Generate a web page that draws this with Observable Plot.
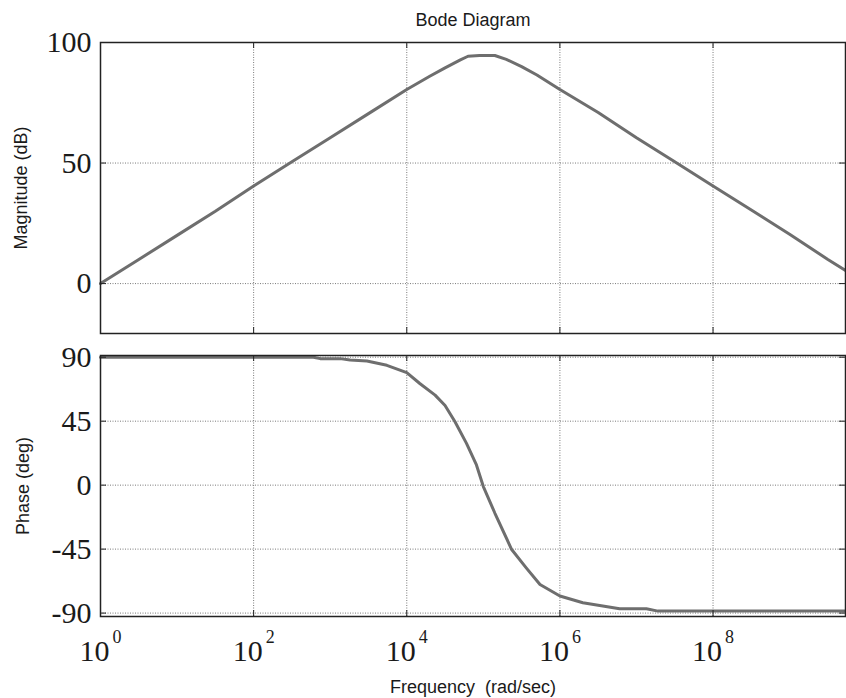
<!DOCTYPE html>
<html>
<head>
<meta charset="utf-8">
<script src="https://cdn.jsdelivr.net/npm/d3@7"></script>
<script src="https://cdn.jsdelivr.net/npm/@observablehq/plot@0.6"></script>
<style>
  html, body { margin: 0; padding: 0; background: #fff; }
  #chart { position: relative; width: 846px; height: 698px; background: #fff; }
  #chart svg { position: absolute; left: 0; overflow: visible; background: transparent; }
</style>
</head>
<body>
<div id="chart"></div>
<script>
// ---- data ----
const xTickExp = [0, 2, 4, 6, 8];
const magTicks = [0, 50, 100];
const phaseTicks = [-90, -45, 0, 45, 90];

// magnitude: frequency exponent (log10 rad/sec) and dB
const magExp = [0, 0.5, 1.0, 1.5, 2.0, 2.5, 3.0, 3.5, 4.0, 4.3, 4.5, 4.7, 4.8, 4.95, 5.15, 5.3, 5.5, 5.7, 6.0, 6.5, 7.0, 7.5, 8.0, 8.5, 9.0, 9.5, 9.73];
const magDb  = [0, 10, 20, 30, 40.5, 50.5, 60.5, 70.5, 80.5, 86, 89.5, 92.8, 94.3, 94.6, 94.6, 93, 90, 86.5, 80.5, 71, 60.5, 50.5, 40.5, 30.5, 20.5, 10, 5.4];

// phase: frequency exponent and degrees
const phaseExp = [0, 1, 2, 2.78, 2.87, 3.13, 3.26, 3.48, 3.74, 4.0, 4.17, 4.37, 4.5, 4.63, 4.78, 4.91, 5.0, 5.15, 5.37, 5.56, 5.74, 6.0, 6.3, 6.78, 7.13, 7.28, 9.73];
const phaseDeg = [90, 90, 90, 90, 89, 89, 88, 87.3, 84.3, 79.2, 71.5, 63.3, 56, 44.6, 29.4, 14.2, -1, -19.6, -45.3, -58.2, -69.9, -78, -82.7, -86.9, -86.9, -88.6, -88.6];

const xTicks = xTickExp.map(e => 10 ** e);
const magData = magExp.map((e, i) => ({f: 10 ** e, v: magDb[i]}));
const phaseData = phaseExp.map((e, i) => ({f: 10 ** e, v: phaseDeg[i]}));

// ---- styling ----
const W = 846;
const serif = "Liberation Serif, Times New Roman, serif";
const sans = "Liberation Sans, Arial, sans-serif";
const lineColor = "#6e6e6e";
const frameColor = "#222";
const gridStyle = {stroke: "#7a7a7a", strokeOpacity: 1, strokeWidth: 1, strokeDasharray: "1,1.5"};
const xDomain = [1, 10 ** 9.73];
const mL = 100, mR = 1;
const innerW = W - mL - mR;
const tickLen = 6;

function panel({height, mT, mB, yDomain, yTicks, data, showX, extra}) {
  const innerH = height - mT - mB;
  const marks = [
    Plot.gridX({ticks: xTicks, ...gridStyle}),
    Plot.gridY({ticks: yTicks, ...gridStyle}),
    Plot.line(data, {x: "f", y: "v", stroke: lineColor, strokeWidth: 3, strokeLinejoin: "round"}),
    Plot.tickX(xTicks, {x: d => d, insetTop: innerH - tickLen, stroke: frameColor}),
    Plot.tickX(xTicks, {x: d => d, insetBottom: innerH - tickLen, stroke: frameColor}),
    Plot.tickY(yTicks, {y: d => d, insetRight: innerW - tickLen, stroke: frameColor}),
    Plot.tickY(yTicks, {y: d => d, insetLeft: innerW - tickLen, stroke: frameColor}),
    Plot.frame({stroke: frameColor, strokeWidth: 1.5}),
    Plot.axisY({ticks: yTicks, tickSize: 0, tickPadding: 9, tickFormat: d => String(d),
      fontSize: 30, fontFamily: serif, fill: "#1a1a1a", label: null})
  ];
  if (showX) {
    marks.push(
      Plot.axisX({ticks: xTicks, tickSize: 0, tickPadding: 23, tickFormat: () => "10",
        fontSize: 30, fontFamily: serif, fill: "#1a1a1a", dx: -6, label: null}),
      Plot.text(xTicks, {x: d => d, frameAnchor: "bottom", text: (d, i) => String(xTickExp[i]),
        textAnchor: "start", lineAnchor: "bottom", dx: 12, dy: 26,
        fontSize: 18, fontFamily: serif, fill: "#1a1a1a"})
    );
  }
  marks.push(...extra);
  return Plot.plot({
    width: W, height,
    marginTop: mT, marginBottom: mB, marginLeft: mL, marginRight: mR,
    style: {background: "transparent", overflow: "visible"},
    x: {type: "log", domain: xDomain, axis: null},
    y: {domain: yDomain, axis: null},
    marks
  });
}

const magPanel = panel({
  height: 345, mT: 42, mB: 12, yDomain: [-20.7, 100], yTicks: magTicks, data: magData, showX: false,
  extra: [
    Plot.text(["Bode Diagram"], {frameAnchor: "top", lineAnchor: "bottom", dy: -17,
      fontSize: 18, fontFamily: sans, fill: "#1a1a1a"}),
    Plot.text(["Magnitude (dB)"], {frameAnchor: "left", textAnchor: "middle", lineAnchor: "middle",
      rotate: -90, dx: -79, fontSize: 18, fontFamily: sans, fill: "#1a1a1a"})
  ]
});
const phasePanel = panel({
  height: 353, mT: 10, mB: 82, yDomain: [-92.4, 91.2], yTicks: phaseTicks, data: phaseData, showX: true,
  extra: [
    Plot.text(["Phase (deg)"], {frameAnchor: "left", textAnchor: "middle", lineAnchor: "middle",
      rotate: -90, dx: -77, fontSize: 18, fontFamily: sans, fill: "#1a1a1a"}),
    Plot.text(["Frequency\u00a0 (rad/sec)"], {frameAnchor: "bottom", lineAnchor: "bottom", dy: 76,
      fontSize: 18, fontFamily: sans, fill: "#1a1a1a"})
  ]
});

const root = document.getElementById("chart");
magPanel.style.top = "0px";
phasePanel.style.top = "345px";
root.appendChild(magPanel);
root.appendChild(phasePanel);
</script>
</body>
</html>
